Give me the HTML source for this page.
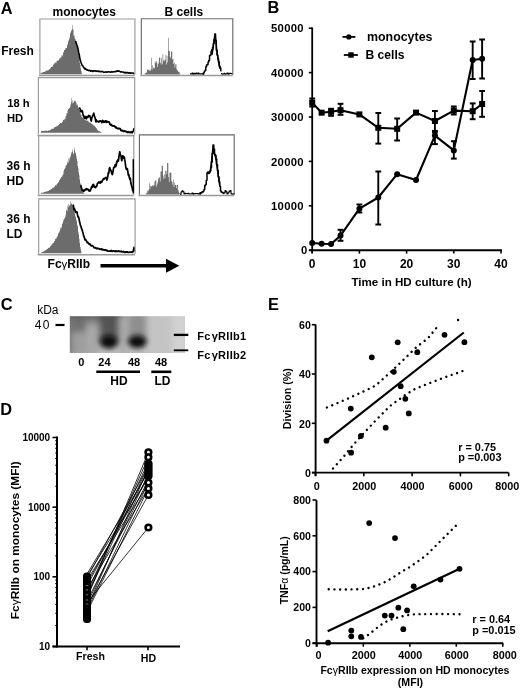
<!DOCTYPE html>
<html><head><meta charset="utf-8"><style>
html,body{margin:0;padding:0;background:#fff;width:520px;height:691px;overflow:hidden}
svg{display:block;filter:grayscale(1)}
text{font-family:"Liberation Sans", sans-serif;fill:#000}
</style></head><body>
<svg width="520" height="691" viewBox="0 0 520 691">
<rect width="520" height="691" fill="#fff"/>
<text transform="translate(0.8,13.7) scale(0.94,1)" font-size="17.4" font-weight="bold">A</text>
<text x="52.5" y="16.3" font-size="12" font-weight="bold" text-anchor="start" >monocytes</text>
<text x="164.5" y="16.3" font-size="12" font-weight="bold" text-anchor="start" >B cells</text>
<text x="1.2" y="54.8" font-size="12" font-weight="bold" text-anchor="start" >Fresh</text>
<text x="7.3" y="106.6" font-size="11.2" font-weight="bold" text-anchor="start" >18 h</text>
<text x="6.9" y="121.7" font-size="11.2" font-weight="bold" text-anchor="start" >HD</text>
<text x="6.5" y="170.2" font-size="12" font-weight="bold" text-anchor="start" >36 h</text>
<text x="6.5" y="184.8" font-size="12" font-weight="bold" text-anchor="start" >HD</text>
<text x="6.5" y="223.2" font-size="12" font-weight="bold" text-anchor="start" >36 h</text>
<text x="6.5" y="238.4" font-size="12" font-weight="bold" text-anchor="start" >LD</text>
<text x="47.6" y="268.2" font-size="12" font-weight="bold">Fc<tspan font-weight="normal" font-size="11.5">γ</tspan>RIIb</text>
<line x1="100.50" y1="265.80" x2="168.00" y2="265.80" stroke="#000" stroke-width="3.4" />
<polygon points="166.00,258.80 179.30,265.80 166.00,272.80" fill="#000" stroke="none" stroke-width="1" stroke-linejoin="round" />
<polygon points="40.50,74.20 40.50,73.28 41.00,73.28 41.00,73.26 41.50,73.26 41.50,72.84 42.00,72.84 42.00,72.43 42.50,72.43 42.50,72.51 43.00,72.51 43.00,71.93 43.50,71.93 43.50,71.84 44.00,71.84 44.00,71.78 44.50,71.78 44.50,71.99 45.00,71.99 45.00,71.52 45.50,71.52 45.50,70.85 46.00,70.85 46.00,70.87 46.50,70.87 46.50,70.53 47.00,70.53 47.00,70.31 47.50,70.31 47.50,70.51 48.00,70.51 48.00,70.28 48.50,70.28 48.50,69.81 49.00,69.81 49.00,69.12 49.50,69.12 49.50,69.42 50.00,69.42 50.00,68.69 50.50,68.69 50.50,67.52 51.00,67.52 51.00,66.89 51.50,66.89 51.50,67.02 52.00,67.02 52.00,66.60 52.50,66.60 52.50,66.62 53.00,66.62 53.00,64.76 53.50,64.76 53.50,64.39 54.00,64.39 54.00,64.01 54.50,64.01 54.50,63.03 55.00,63.03 55.00,62.93 55.50,62.93 55.50,61.93 56.00,61.93 56.00,63.00 56.50,63.00 56.50,61.08 57.00,61.08 57.00,60.43 57.50,60.43 57.50,60.96 58.00,60.96 58.00,60.70 58.50,60.70 58.50,60.05 59.00,60.05 59.00,59.19 59.50,59.19 59.50,58.16 60.00,58.16 60.00,57.35 60.50,57.35 60.50,58.58 61.00,58.58 61.00,57.24 61.50,57.24 61.50,55.55 62.00,55.55 62.00,56.26 62.50,56.26 62.50,54.90 63.00,54.90 63.00,52.46 63.50,52.46 63.50,52.34 64.00,52.34 64.00,49.99 64.50,49.99 64.50,49.89 65.00,49.89 65.00,49.22 65.50,49.22 65.50,48.05 66.00,48.05 66.00,48.01 66.50,48.01 66.50,47.63 67.00,47.63 67.00,44.02 67.50,44.02 67.50,45.21 68.00,45.21 68.00,40.30 68.50,40.30 68.50,41.74 69.00,41.74 69.00,39.20 69.50,39.20 69.50,36.96 70.00,36.96 70.00,32.33 70.50,32.33 70.50,33.61 71.00,33.61 71.00,30.89 71.50,30.89 71.50,29.63 72.00,29.63 72.00,25.12 72.50,25.12 72.50,29.25 73.00,29.25 73.00,29.43 73.50,29.43 73.50,35.38 74.00,35.38 74.00,35.61 74.50,35.61 74.50,38.34 75.00,38.34 75.00,38.95 75.50,38.95 75.50,40.46 76.00,40.46 76.00,42.73 76.50,42.73 76.50,44.50 77.00,44.50 77.00,48.32 77.50,48.32 77.50,50.39 78.00,50.39 78.00,52.94 78.50,52.94 78.50,54.24 79.00,54.24 79.00,58.89 79.50,58.89 79.50,62.78 80.00,62.78 80.00,64.85 80.50,64.85 80.50,68.44 81.00,68.44 81.00,70.99 81.50,70.99 81.50,73.35 82.00,73.35 82.00,73.99 82.50,73.99 82.50,74.20 83.00,74.20 82.50,74.20" fill="#6c6c6c" stroke="none" stroke-width="1" stroke-linejoin="round" />
<polyline points="75.60,40.95 76.20,43.03 76.80,44.76 77.40,46.29 78.00,49.02 78.60,52.15 79.20,54.36 79.80,58.05 80.40,60.80 81.00,62.48 81.60,64.01 82.20,65.50 82.80,65.79 83.40,67.03 84.00,67.65 84.60,68.81 85.20,68.37 85.80,69.50 86.40,69.21 87.00,70.17 87.60,70.02 88.20,70.24 88.80,70.77 89.40,70.23 90.00,70.43 90.60,71.19 91.20,70.90 91.80,70.61 92.40,71.39 93.00,71.41 93.60,70.77 94.20,71.07 94.80,70.89 95.40,71.07 96.00,71.36 96.60,71.03 97.20,71.49 97.80,71.01 98.40,71.14 99.00,71.69 99.60,71.40 100.20,71.46 100.80,71.66 101.40,71.62 102.00,71.61 102.60,71.40 103.20,71.99 103.80,72.24 104.40,72.30 105.00,72.12 105.60,71.89 106.20,71.90 106.80,72.14 107.40,72.13 108.00,71.71 108.60,71.80 109.20,71.90 109.80,72.01 110.40,72.22 111.00,71.96 111.60,71.58 112.20,72.16 112.80,71.83 113.40,71.88 114.00,71.63 114.60,71.76 115.20,71.66 115.80,71.80 116.40,71.11 117.00,71.31 117.60,70.84 118.20,71.23 118.80,70.89 119.40,71.29 120.00,71.55 120.60,71.97 121.20,71.69 121.80,72.07 122.40,71.96 123.00,72.09 123.60,72.31 124.20,72.73 124.80,72.46 125.40,72.87 126.00,72.36 126.60,72.96 127.20,72.62 127.80,72.56 128.40,73.01 129.00,73.18 129.60,72.62 130.20,72.86 130.80,73.27 131.40,73.05 132.00,73.05 132.60,72.96 133.20,73.05 133.80,73.50 134.40,73.80" fill="none" stroke="#000" stroke-width="1.6" stroke-linejoin="round" />
<path d="M39.9,74.8 L39.9,19.0 L134.9,19.0 L134.9,74.8" fill="none" stroke="#9a9a9a" stroke-width="1.15"/>
<line x1="38.9" y1="75.6" x2="134.9" y2="75.6" stroke="#9a9a9a" stroke-width="1.5"/>
<polygon points="144.00,74.60 144.00,74.54 144.60,74.54 144.60,73.78 145.20,73.78 145.20,73.11 145.80,73.11 145.80,72.63 146.40,72.63 146.40,72.56 147.00,72.56 147.00,69.50 147.60,69.50 147.60,69.50 148.20,69.50 148.20,70.48 148.80,70.48 148.80,69.99 149.40,69.99 149.40,70.45 150.00,70.45 150.00,70.96 150.60,70.96 150.60,69.04 151.20,69.04 151.20,57.80 151.80,57.80 151.80,69.63 152.40,69.63 152.40,65.36 153.00,65.36 153.00,67.98 153.60,67.98 153.60,67.57 154.20,67.57 154.20,68.39 154.80,68.39 154.80,61.51 155.40,61.51 155.40,62.68 156.00,62.68 156.00,61.05 156.60,61.05 156.60,62.65 157.20,62.65 157.20,66.96 157.80,66.96 157.80,64.29 158.40,64.29 158.40,62.55 159.00,62.55 159.00,57.80 159.60,57.80 159.60,57.78 160.20,57.78 160.20,62.73 160.80,62.73 160.80,64.44 161.40,64.44 161.40,57.74 162.00,57.74 162.00,64.23 162.60,64.23 162.60,54.40 163.20,54.40 163.20,60.63 163.80,60.63 163.80,59.44 164.40,59.44 164.40,61.45 165.00,61.45 165.00,59.80 165.60,59.80 165.60,54.90 166.20,54.90 166.20,64.53 166.80,64.53 166.80,55.78 167.40,55.78 167.40,62.44 168.00,62.44 168.00,38.10 168.60,38.10 168.60,51.00 169.20,51.00 169.20,51.00 169.80,51.00 169.80,56.46 170.40,56.46 170.40,58.15 171.00,58.15 171.00,51.50 171.60,51.50 171.60,51.50 172.20,51.50 172.20,59.58 172.80,59.58 172.80,58.70 173.40,58.70 173.40,63.90 174.00,63.90 174.00,62.46 174.60,62.46 174.60,67.63 175.20,67.63 175.20,64.44 175.80,64.44 175.80,64.00 176.40,64.00 176.40,69.19 177.00,69.19 177.00,70.29 177.60,70.29 177.60,70.99 178.20,70.99 178.20,72.02 178.80,72.02 178.80,71.85 179.40,71.85 179.40,73.43 180.00,73.43 180.00,74.26 180.60,74.26 180.60,74.42 181.20,74.42 181.00,74.60" fill="#6c6c6c" stroke="none" stroke-width="1" stroke-linejoin="round" />
<polyline points="202.80,74.41 203.55,74.41 203.55,72.68 204.30,72.68 204.30,71.36 205.05,71.36 205.05,70.22 205.80,70.22 205.80,66.73 206.55,66.73 206.55,64.90 207.30,64.90 207.30,64.42 208.05,64.42 208.05,62.06 208.80,62.06 208.80,60.16 209.55,60.16 209.55,55.41 210.30,55.41 210.30,55.12 211.05,55.12 211.05,51.24 211.80,51.24 211.80,49.54 212.55,49.54 212.55,47.34 213.30,47.34 213.30,43.53 214.05,43.53 214.05,39.68 214.80,39.68 214.80,34.35 215.55,34.35 215.55,40.66 216.30,40.66 216.30,50.17 217.05,50.17 217.05,55.10 217.80,55.10 217.80,59.03 218.55,59.03 218.55,61.76 219.30,61.76 219.30,65.92 220.05,65.92 220.05,67.96 220.80,67.96 220.80,70.85 221.55,70.85" fill="none" stroke="#000" stroke-width="1.5" stroke-linejoin="round" />
<polyline points="190.00,73.88 191.00,73.88 191.00,74.06 192.00,74.06 192.00,73.17 193.00,73.17 193.00,74.27 194.00,74.27 194.00,73.19 195.00,73.19 195.00,73.83 196.00,73.83 196.00,73.05 197.00,73.05 197.00,73.95 198.00,73.95 198.00,73.13 199.00,73.13 199.00,73.88 200.00,73.88 200.00,73.90 201.00,73.90 201.00,73.96 202.00,73.96 202.00,73.52 203.00,73.52 203.00,74.09 204.00,74.09" fill="none" stroke="#000" stroke-width="1.1" stroke-linejoin="round" />
<polyline points="221.00,73.44 222.00,73.44 222.00,74.17 223.00,74.17 223.00,74.06 224.00,74.06 224.00,73.22 225.00,73.22 225.00,74.10 226.00,74.10 226.00,73.78 227.00,73.78 227.00,72.99 228.00,72.99 228.00,74.21 229.00,74.21 229.00,73.27 230.00,73.27 230.00,73.34 231.00,73.34 231.00,73.50 232.00,73.50 232.00,73.72 233.00,73.72" fill="none" stroke="#000" stroke-width="1.1" stroke-linejoin="round" />
<polyline points="212.00,54.85 212.60,51.30 213.20,47.58 213.80,41.71 214.40,37.82 215.00,33.85 215.60,38.56 216.20,44.93 216.80,50.05 217.40,55.12 218.00,58.45 218.60,62.47 219.20,65.15 219.80,68.52" fill="none" stroke="#000" stroke-width="1.4" stroke-linejoin="round" />
<path d="M141.3,74.8 L141.3,18.7 L232.8,18.7 L232.8,74.8" fill="none" stroke="#6a6a6a" stroke-width="1.15"/>
<line x1="140.3" y1="75.6" x2="232.8" y2="75.6" stroke="#9a9a9a" stroke-width="1.5"/>
<polygon points="40.50,132.80 40.50,132.29 41.00,132.29 41.00,131.26 41.50,131.26 41.50,130.98 42.00,130.98 42.00,131.08 42.50,131.08 42.50,130.98 43.00,130.98 43.00,131.07 43.50,131.07 43.50,131.01 44.00,131.01 44.00,131.00 44.50,131.00 44.50,130.58 45.00,130.58 45.00,131.04 45.50,131.04 45.50,130.58 46.00,130.58 46.00,130.75 46.50,130.75 46.50,130.45 47.00,130.45 47.00,130.67 47.50,130.67 47.50,130.88 48.00,130.88 48.00,130.35 48.50,130.35 48.50,130.75 49.00,130.75 49.00,130.19 49.50,130.19 49.50,130.57 50.00,130.57 50.00,129.95 50.50,129.95 50.50,129.74 51.00,129.74 51.00,129.38 51.50,129.38 51.50,128.74 52.00,128.74 52.00,128.63 52.50,128.63 52.50,128.72 53.00,128.72 53.00,128.72 53.50,128.72 53.50,128.38 54.00,128.38 54.00,127.30 54.50,127.30 54.50,127.43 55.00,127.43 55.00,126.91 55.50,126.91 55.50,126.79 56.00,126.79 56.00,126.66 56.50,126.66 56.50,125.79 57.00,125.79 57.00,126.31 57.50,126.31 57.50,125.70 58.00,125.70 58.00,125.36 58.50,125.36 58.50,124.96 59.00,124.96 59.00,124.09 59.50,124.09 59.50,124.09 60.00,124.09 60.00,122.97 60.50,122.97 60.50,123.29 61.00,123.29 61.00,123.14 61.50,123.14 61.50,122.76 62.00,122.76 62.00,121.70 62.50,121.70 62.50,121.65 63.00,121.65 63.00,119.70 63.50,119.70 63.50,119.89 64.00,119.89 64.00,120.18 64.50,120.18 64.50,118.54 65.00,118.54 65.00,118.98 65.50,118.98 65.50,116.22 66.00,116.22 66.00,115.77 66.50,115.77 66.50,113.30 67.00,113.30 67.00,113.15 67.50,113.15 67.50,110.84 68.00,110.84 68.00,108.76 68.50,108.76 68.50,109.16 69.00,109.16 69.00,107.95 69.50,107.95 69.50,108.15 70.00,108.15 70.00,106.40 70.50,106.40 70.50,104.60 71.00,104.60 71.00,102.30 71.50,102.30 71.50,97.93 72.00,97.93 72.00,100.20 72.50,100.20 72.50,103.47 73.00,103.47 73.00,102.36 73.50,102.36 73.50,102.67 74.00,102.67 74.00,101.04 74.50,101.04 74.50,100.67 75.00,100.67 75.00,100.80 75.50,100.80 75.50,101.50 76.00,101.50 76.00,102.81 76.50,102.81 76.50,104.81 77.00,104.81 77.00,104.36 77.50,104.36 77.50,105.74 78.00,105.74 78.00,107.50 78.50,107.50 78.50,107.82 79.00,107.82 79.00,109.63 79.50,109.63 79.50,109.75 80.00,109.75 80.00,112.66 80.50,112.66 80.50,114.42 81.00,114.42 81.00,114.66 81.50,114.66 81.50,116.96 82.00,116.96 82.00,118.02 82.50,118.02 82.50,117.02 83.00,117.02 83.00,117.69 83.50,117.69 83.50,118.47 84.00,118.47 84.00,117.95 84.50,117.95 84.50,119.77 85.00,119.77 85.00,120.13 85.50,120.13 85.50,119.98 86.00,119.98 86.00,120.20 86.50,120.20 86.50,121.06 87.00,121.06 87.00,120.55 87.50,120.55 87.50,120.65 88.00,120.65 88.00,120.74 88.50,120.74 88.50,122.14 89.00,122.14 89.00,122.13 89.50,122.13 89.50,122.43 90.00,122.43 90.00,122.74 90.50,122.74 90.50,122.79 91.00,122.79 91.00,123.62 91.50,123.62 91.50,123.72 92.00,123.72 92.00,124.17 92.50,124.17 92.50,124.61 93.00,124.61 93.00,125.70 93.50,125.70 93.50,124.98 94.00,124.98 94.00,126.33 94.50,126.33 94.50,125.87 95.00,125.87 95.00,126.60 95.50,126.60 95.50,127.61 96.00,127.61 96.00,128.08 96.50,128.08 96.50,128.75 97.00,128.75 97.00,129.52 97.50,129.52 97.50,130.24 98.00,130.24 98.00,130.85 98.50,130.85 98.50,130.92 99.00,130.92 99.00,130.87 99.50,130.87 99.50,131.51 100.00,131.51 100.00,131.76 100.50,131.76 100.50,131.86 101.00,131.86 101.00,132.22 101.50,132.22 101.50,132.61 102.00,132.61 101.50,132.80" fill="#6c6c6c" stroke="none" stroke-width="1" stroke-linejoin="round" />
<polyline points="79.30,107.48 79.80,108.37 80.30,109.09 80.80,111.64 81.30,110.59 81.80,111.79 82.30,110.75 82.80,113.41 83.30,115.72 83.80,115.82 84.30,118.15 84.80,118.29 85.30,117.10 85.80,116.36 86.30,118.95 86.80,117.48 87.30,116.52 87.80,117.46 88.30,116.63 88.80,115.44 89.30,116.39 89.80,115.73 90.30,117.24 90.80,119.23 91.30,121.10 91.80,117.70 92.30,116.79 92.80,115.31 93.30,114.35 93.80,113.25 94.30,115.86 94.80,116.85 95.30,118.85 95.80,121.74 96.30,119.88 96.80,121.67 97.30,121.59 97.80,121.27 98.30,121.41 98.80,122.02 99.30,121.67 99.80,120.82 100.30,121.07 100.80,120.86 101.30,121.25 101.80,122.72 102.30,121.32 102.80,120.42 103.30,121.44 103.80,122.28 104.30,121.36 104.80,122.13 105.30,120.75 105.80,120.81 106.30,122.41 106.80,121.05 107.30,121.79 107.80,122.12 108.30,121.83 108.80,121.73 109.30,121.94 109.80,124.37 110.30,124.07 110.80,124.99 111.30,124.34 111.80,125.67 112.30,125.82 112.80,125.68 113.30,125.85 113.80,126.17 114.30,125.94 114.80,126.49 115.30,127.39 115.80,126.71 116.30,128.12 116.80,127.79 117.30,128.21 117.80,128.83 118.30,128.78 118.80,128.21 119.30,128.64 119.80,128.51 120.30,128.81 120.80,130.42 121.30,130.14 121.80,130.90 122.30,130.81 122.80,130.36 123.30,131.42 123.80,131.54 124.30,131.12 124.80,130.84 125.30,131.33 125.80,131.33 126.30,131.77 126.80,131.52 127.30,132.28 127.80,132.60 128.30,131.71 128.80,132.40 129.30,132.18 129.80,132.08 130.30,132.59 130.80,131.99 131.30,132.52 131.80,131.62 132.30,132.71 132.80,131.82 133.30,131.00 133.80,129.27 134.30,128.23" fill="none" stroke="#000" stroke-width="1.7" stroke-linejoin="round" />
<path d="M38.4,134.6 L38.4,77.6 L134.7,77.6 L134.7,134.6" fill="none" stroke="#9a9a9a" stroke-width="1.15"/>
<line x1="37.4" y1="135.4" x2="134.7" y2="135.4" stroke="#9a9a9a" stroke-width="1.5"/>
<polygon points="40.50,193.80 40.50,193.46 41.00,193.46 41.00,192.80 41.50,192.80 41.50,192.84 42.00,192.84 42.00,192.66 42.50,192.66 42.50,192.64 43.00,192.64 43.00,192.54 43.50,192.54 43.50,192.40 44.00,192.40 44.00,191.87 44.50,191.87 44.50,192.03 45.00,192.03 45.00,191.95 45.50,191.95 45.50,191.54 46.00,191.54 46.00,191.41 46.50,191.41 46.50,191.55 47.00,191.55 47.00,191.49 47.50,191.49 47.50,191.01 48.00,191.01 48.00,190.81 48.50,190.81 48.50,190.88 49.00,190.88 49.00,189.97 49.50,189.97 49.50,190.13 50.00,190.13 50.00,189.68 50.50,189.68 50.50,189.55 51.00,189.55 51.00,188.97 51.50,188.97 51.50,188.85 52.00,188.85 52.00,188.46 52.50,188.46 52.50,187.64 53.00,187.64 53.00,187.85 53.50,187.85 53.50,187.38 54.00,187.38 54.00,187.12 54.50,187.12 54.50,186.33 55.00,186.33 55.00,185.22 55.50,185.22 55.50,185.35 56.00,185.35 56.00,185.52 56.50,185.52 56.50,184.17 57.00,184.17 57.00,183.65 57.50,183.65 57.50,183.24 58.00,183.24 58.00,182.02 58.50,182.02 58.50,182.20 59.00,182.20 59.00,180.06 59.50,180.06 59.50,180.17 60.00,180.17 60.00,178.63 60.50,178.63 60.50,178.21 61.00,178.21 61.00,177.15 61.50,177.15 61.50,176.81 62.00,176.81 62.00,176.14 62.50,176.14 62.50,175.04 63.00,175.04 63.00,174.13 63.50,174.13 63.50,170.97 64.00,170.97 64.00,169.58 64.50,169.58 64.50,168.66 65.00,168.66 65.00,167.90 65.50,167.90 65.50,165.65 66.00,165.65 66.00,165.31 66.50,165.31 66.50,164.75 67.00,164.75 67.00,163.30 67.50,163.30 67.50,161.60 68.00,161.60 68.00,162.64 68.50,162.64 68.50,158.44 69.00,158.44 69.00,160.50 69.50,160.50 69.50,158.04 70.00,158.04 70.00,155.80 70.50,155.80 70.50,157.35 71.00,157.35 71.00,153.85 71.50,153.85 71.50,152.05 72.00,152.05 72.00,151.75 72.50,151.75 72.50,149.59 73.00,149.59 73.00,153.33 73.50,153.33 73.50,154.26 74.00,154.26 74.00,150.25 74.50,150.25 74.50,147.38 75.00,147.38 75.00,152.33 75.50,152.33 75.50,153.54 76.00,153.54 76.00,155.84 76.50,155.84 76.50,158.74 77.00,158.74 77.00,161.11 77.50,161.11 77.50,166.03 78.00,166.03 78.00,168.26 78.50,168.26 78.50,172.39 79.00,172.39 79.00,175.19 79.50,175.19 79.50,179.40 80.00,179.40 80.00,182.94 80.50,182.94 80.50,186.39 81.00,186.39 81.00,188.22 81.50,188.22 81.50,189.91 82.00,189.91 82.00,191.43 82.50,191.43 82.50,191.65 83.00,191.65 83.00,192.14 83.50,192.14 83.50,192.97 84.00,192.97 84.00,193.25 84.50,193.25 84.20,193.80" fill="#6c6c6c" stroke="none" stroke-width="1" stroke-linejoin="round" />
<polyline points="80.30,185.57 80.80,185.46 81.30,187.53 81.80,188.88 82.30,190.58 82.80,190.69 83.30,191.30 83.80,190.08 84.30,190.79 84.80,189.72 85.30,189.69 85.80,189.87 86.30,188.56 86.80,188.53 87.30,189.51 87.80,189.64 88.30,189.36 88.80,190.41 89.30,191.15 89.80,190.06 90.30,190.77 90.80,189.60 91.30,187.85 91.80,186.40 92.30,187.34 92.80,184.77 93.30,184.47 93.80,184.83 94.30,187.05 94.80,186.76 95.30,187.57 95.80,187.45 96.30,185.99 96.80,186.17 97.30,183.55 97.80,183.06 98.30,182.94 98.80,181.82 99.30,182.93 99.80,182.37 100.30,183.10 100.80,181.45 101.30,182.36 101.80,182.15 102.30,180.61 102.80,180.19 103.30,178.85 103.80,178.57 104.30,179.00 104.80,178.00 105.30,178.02 105.80,177.43 106.30,177.64 106.80,180.11 107.30,178.65 107.80,176.54 108.30,172.67 108.80,173.11 109.30,168.62 109.80,167.57 110.30,169.77 110.80,170.02 111.30,171.45 111.80,173.80 112.30,174.51 112.80,173.04 113.30,169.46 113.80,167.42 114.30,167.49 114.80,166.11 115.30,164.62 115.80,166.58 116.30,165.02 116.80,161.28 117.30,161.83 117.80,159.74 118.30,161.07 118.80,158.12 119.30,154.04 119.80,151.72 120.30,154.78 120.80,155.14 121.30,158.23 121.80,160.75 122.30,157.56 122.80,155.77 123.30,158.19 123.80,156.56 124.30,157.51 124.80,160.10 125.30,163.17 125.80,167.32 126.30,169.31 126.80,168.94 127.30,168.63 127.80,171.29 128.30,175.26 128.80,174.46 129.30,177.54 129.80,179.12 130.30,178.21 130.80,182.74 131.30,184.71 131.80,186.58 132.30,188.29 132.80,191.31" fill="none" stroke="#000" stroke-width="1.7" stroke-linejoin="round" />
<path d="M38.7,194.8 L38.7,135.6 L133.8,135.6 L133.8,194.8" fill="none" stroke="#9a9a9a" stroke-width="1.15"/>
<line x1="37.7" y1="195.60000000000002" x2="133.8" y2="195.60000000000002" stroke="#9a9a9a" stroke-width="1.5"/>
<line x1="133.30" y1="159.20" x2="133.30" y2="193.50" stroke="#000" stroke-width="1.5" />
<polygon points="145.50,194.40 145.50,194.40 146.10,194.40 146.10,193.24 146.70,193.24 146.70,192.64 147.30,192.64 147.30,190.44 147.90,190.44 147.90,191.23 148.50,191.23 148.50,189.64 149.10,189.64 149.10,183.20 149.70,183.20 149.70,188.88 150.30,188.88 150.30,185.69 150.90,185.69 150.90,186.19 151.50,186.19 151.50,186.58 152.10,186.58 152.10,185.59 152.70,185.59 152.70,185.29 153.30,185.29 153.30,186.20 153.90,186.20 153.90,181.43 154.50,181.43 154.50,184.97 155.10,184.97 155.10,180.15 155.70,180.15 155.70,180.49 156.30,180.49 156.30,186.66 156.90,186.66 156.90,184.43 157.50,184.43 157.50,182.14 158.10,182.14 158.10,178.66 158.70,178.66 158.70,177.40 159.30,177.40 159.30,177.40 159.90,177.40 159.90,181.57 160.50,181.57 160.50,171.60 161.10,171.60 161.10,171.60 161.70,171.60 161.70,165.80 162.30,165.80 162.30,165.80 162.90,165.80 162.90,175.58 163.50,175.58 163.50,179.04 164.10,179.04 164.10,174.30 164.70,174.30 164.70,178.34 165.30,178.34 165.30,170.70 165.90,170.70 165.90,170.70 166.50,170.70 166.50,174.14 167.10,174.14 167.10,163.00 167.70,163.00 167.70,163.00 168.30,163.00 168.30,176.97 168.90,176.97 168.90,181.99 169.50,181.99 169.50,173.11 170.10,173.11 170.10,172.60 170.70,172.60 170.70,172.60 171.30,172.60 171.30,181.06 171.90,181.06 171.90,181.98 172.50,181.98 172.50,184.74 173.10,184.74 173.10,179.53 173.70,179.53 173.70,186.99 174.30,186.99 174.30,182.44 174.90,182.44 174.90,185.00 175.50,185.00 175.50,185.00 176.10,185.00 176.10,188.13 176.70,188.13 176.70,185.00 177.30,185.00 177.30,185.00 177.90,185.00 177.90,189.76 178.50,189.76 178.50,191.64 179.10,191.64 179.10,193.06 179.70,193.06 179.50,194.40" fill="#6c6c6c" stroke="none" stroke-width="1" stroke-linejoin="round" />
<polyline points="199.50,194.23 200.25,194.23 200.25,192.82 201.00,192.82 201.00,192.91 201.75,192.91 201.75,192.11 202.50,192.11 202.50,192.06 203.25,192.06 203.25,190.90 204.00,190.90 204.00,189.29 204.75,189.29 204.75,185.40 205.50,185.40 205.50,184.18 206.25,184.18 206.25,180.29 207.00,180.29 207.00,172.72 207.75,172.72 207.75,171.90 208.50,171.90 208.50,173.56 209.25,173.56 209.25,172.53 210.00,172.53 210.00,171.07 210.75,171.07 210.75,167.57 211.50,167.57 211.50,161.94 212.25,161.94 212.25,153.50 213.00,153.50 213.00,144.95 213.75,144.95 213.75,148.92 214.50,148.92 214.50,154.18 215.25,154.18 215.25,155.20 216.00,155.20 216.00,158.94 216.75,158.94 216.75,164.59 217.50,164.59 217.50,170.44 218.25,170.44 218.25,176.86 219.00,176.86 219.00,181.67 219.75,181.67 219.75,186.33 220.50,186.33 220.50,191.05 221.25,191.05 221.25,192.17 222.00,192.17 222.00,192.20 222.75,192.20 222.75,193.02 223.50,193.02 223.50,193.47 224.25,193.47" fill="none" stroke="#000" stroke-width="1.5" stroke-linejoin="round" />
<polyline points="180.00,194.40 181.00,194.40 181.00,191.93 182.00,191.93 182.00,190.90 183.00,190.90 183.00,191.81 184.00,191.81 184.00,194.05 185.00,194.05 185.00,193.36 186.00,193.36 186.00,193.44 187.00,193.44 187.00,193.59 188.00,193.59 188.00,193.36 189.00,193.36 189.00,193.99 190.00,193.99 190.00,193.95 191.00,193.95 191.00,193.77 192.00,193.77 192.00,192.97 193.00,192.97 193.00,194.08 194.00,194.08 194.00,193.56 195.00,193.56 195.00,193.62 196.00,193.62 196.00,193.55 197.00,193.55 197.00,193.52 198.00,193.52 198.00,194.01 199.00,194.01 199.00,193.23 200.00,193.23 200.00,193.07 201.00,193.07" fill="none" stroke="#000" stroke-width="1.1" stroke-linejoin="round" />
<polyline points="223.00,193.01 224.00,193.01 224.00,192.91 225.00,192.91 225.00,190.58 226.00,190.58 226.00,191.85 227.00,191.85 227.00,193.91 228.00,193.91 228.00,192.79 229.00,192.79 229.00,191.14 230.00,191.14 230.00,190.54 231.00,190.54 231.00,193.76 232.00,193.76 232.00,194.15 233.00,194.15 233.00,193.89 234.00,193.89 234.00,193.85 235.00,193.85" fill="none" stroke="#000" stroke-width="1.1" stroke-linejoin="round" />
<polyline points="210.00,171.23 210.60,168.78 211.20,163.91 211.80,158.42 212.40,152.87 213.00,147.54 213.60,148.87 214.20,152.46 214.80,155.49 215.40,156.61 216.00,160.01 216.60,164.86 217.20,167.99 217.80,171.52 218.40,176.95 219.00,180.31 219.60,184.88" fill="none" stroke="#000" stroke-width="1.4" stroke-linejoin="round" />
<path d="M139.4,194.8 L139.4,134.8 L234.2,134.8 L234.2,194.8" fill="none" stroke="#6a6a6a" stroke-width="1.15"/>
<line x1="138.4" y1="195.60000000000002" x2="234.2" y2="195.60000000000002" stroke="#9a9a9a" stroke-width="1.5"/>
<polygon points="40.50,253.30 40.50,253.01 41.00,253.01 41.00,252.80 41.50,252.80 41.50,252.32 42.00,252.32 42.00,252.07 42.50,252.07 42.50,251.74 43.00,251.74 43.00,251.38 43.50,251.38 43.50,251.49 44.00,251.49 44.00,250.98 44.50,250.98 44.50,250.53 45.00,250.53 45.00,250.44 45.50,250.44 45.50,250.13 46.00,250.13 46.00,249.85 46.50,249.85 46.50,249.59 47.00,249.59 47.00,249.00 47.50,249.00 47.50,248.74 48.00,248.74 48.00,248.11 48.50,248.11 48.50,247.64 49.00,247.64 49.00,247.25 49.50,247.25 49.50,247.88 50.00,247.88 50.00,246.40 50.50,246.40 50.50,245.70 51.00,245.70 51.00,245.43 51.50,245.43 51.50,244.67 52.00,244.67 52.00,244.31 52.50,244.31 52.50,243.35 53.00,243.35 53.00,242.70 53.50,242.70 53.50,242.91 54.00,242.91 54.00,241.62 54.50,241.62 54.50,240.95 55.00,240.95 55.00,239.16 55.50,239.16 55.50,238.67 56.00,238.67 56.00,238.79 56.50,238.79 56.50,237.18 57.00,237.18 57.00,236.44 57.50,236.44 57.50,235.75 58.00,235.75 58.00,233.69 58.50,233.69 58.50,232.74 59.00,232.74 59.00,232.37 59.50,232.37 59.50,230.95 60.00,230.95 60.00,229.51 60.50,229.51 60.50,227.56 61.00,227.56 61.00,226.57 61.50,226.57 61.50,228.25 62.00,228.25 62.00,224.05 62.50,224.05 62.50,222.95 63.00,222.95 63.00,221.23 63.50,221.23 63.50,219.43 64.00,219.43 64.00,217.88 64.50,217.88 64.50,218.99 65.00,218.99 65.00,216.90 65.50,216.90 65.50,214.38 66.00,214.38 66.00,209.75 66.50,209.75 66.50,210.40 67.00,210.40 67.00,211.17 67.50,211.17 67.50,205.81 68.00,205.81 68.00,207.36 68.50,207.36 68.50,204.00 69.00,204.00 69.00,205.78 69.50,205.78 69.50,205.33 70.00,205.33 70.00,204.87 70.50,204.87 70.50,201.30 71.00,201.30 71.00,203.75 71.50,203.75 71.50,203.31 72.00,203.31 72.00,204.86 72.50,204.86 72.50,205.92 73.00,205.92 73.00,205.92 73.50,205.92 73.50,208.82 74.00,208.82 74.00,210.15 74.50,210.15 74.50,213.16 75.00,213.16 75.00,215.71 75.50,215.71 75.50,217.20 76.00,217.20 76.00,219.71 76.50,219.71 76.50,221.19 77.00,221.19 77.00,224.87 77.50,224.87 77.50,226.35 78.00,226.35 78.00,231.71 78.50,231.71 78.50,234.24 79.00,234.24 79.00,238.91 79.50,238.91 79.50,242.98 80.00,242.98 80.00,246.90 80.50,246.90 80.50,249.14 81.00,249.14 81.00,251.51 81.50,251.51 81.30,253.30" fill="#6c6c6c" stroke="none" stroke-width="1" stroke-linejoin="round" />
<polyline points="73.00,204.61 73.50,205.98 74.00,209.54 74.50,208.67 75.00,210.28 75.50,212.43 76.00,211.53 76.50,212.42 77.00,212.02 77.50,214.90 78.00,216.99 78.50,216.90 79.00,218.80 79.50,221.60 80.00,223.39 80.50,225.74 81.00,226.29 81.50,228.65 82.00,229.32 82.50,231.25 83.00,232.71 83.50,235.37 84.00,236.67 84.50,238.04 85.00,239.95 85.50,239.44 86.00,240.17 86.50,241.06 87.00,242.60 87.50,242.10 88.00,242.74 88.50,243.36 89.00,244.17 89.50,243.89 90.00,244.11 90.50,245.36 91.00,245.50 91.50,245.89 92.00,245.40 92.50,245.99 93.00,246.03 93.50,246.64 94.00,247.62 94.50,247.96 95.00,248.01 95.50,247.64 96.00,248.07 96.50,248.62 97.00,248.06 97.50,248.27 98.00,248.79 98.50,248.48 99.00,248.78 99.50,248.79 100.00,249.46 100.50,249.25 101.00,248.90 101.50,248.96 102.00,249.74 102.50,249.24 103.00,249.94 103.50,249.53 104.00,249.96 104.50,249.84 105.00,250.26 105.50,249.78 106.00,250.16 106.50,250.51 107.00,250.18 107.50,251.02 108.00,251.10 108.50,251.16 109.00,251.20 109.50,251.26 110.00,250.92 110.50,251.22 111.00,250.82 111.50,250.51 112.00,251.40 112.50,251.42 113.00,250.80 113.50,250.95 114.00,250.84 114.50,251.34 115.00,250.84 115.50,251.50 116.00,250.78 116.50,251.16 117.00,251.56 117.50,251.31 118.00,251.00 118.50,250.93 119.00,251.59 119.50,251.06 120.00,251.29 120.50,251.64 121.00,251.40 121.50,251.19 122.00,251.94 122.50,251.91 123.00,251.85 123.50,251.42 124.00,251.82 124.50,252.30 125.00,251.93 125.50,251.74 126.00,252.39 126.50,251.90 127.00,252.10 127.50,251.83 128.00,252.49 128.50,252.36 129.00,252.23 129.50,252.19 130.00,252.06 130.50,252.16 131.00,252.21 131.50,251.78 132.00,252.39 132.50,252.42 133.00,251.78 133.50,249.86 134.00,247.29 134.50,251.44" fill="none" stroke="#000" stroke-width="1.7" stroke-linejoin="round" />
<path d="M38.7,254.0 L38.7,198.8 L135.1,198.8 L135.1,254.0" fill="none" stroke="#9a9a9a" stroke-width="1.15"/>
<line x1="37.7" y1="254.8" x2="135.1" y2="254.8" stroke="#9a9a9a" stroke-width="1.5"/>
<text transform="translate(267.6,13.3) scale(0.94,1)" font-size="17.4" font-weight="bold">B</text>
<line x1="312.20" y1="27.50" x2="312.20" y2="253.20" stroke="#000" stroke-width="1.8" />
<line x1="309.00" y1="250.20" x2="502.00" y2="250.20" stroke="#000" stroke-width="1.9" />
<line x1="308.80" y1="250.20" x2="312.20" y2="250.20" stroke="#000" stroke-width="1.6" />
<text x="307.3" y="254.39999999999998" font-size="11.3" font-weight="bold" text-anchor="end" >0</text>
<line x1="308.80" y1="205.80" x2="312.20" y2="205.80" stroke="#000" stroke-width="1.6" />
<text x="303.9" y="210.00" font-size="11.3" font-weight="bold" text-anchor="end" letter-spacing="0.3">10000</text>
<line x1="308.80" y1="161.40" x2="312.20" y2="161.40" stroke="#000" stroke-width="1.6" />
<text x="303.9" y="165.60" font-size="11.3" font-weight="bold" text-anchor="end" letter-spacing="0.3">20000</text>
<line x1="308.80" y1="117.00" x2="312.20" y2="117.00" stroke="#000" stroke-width="1.6" />
<text x="303.9" y="121.20" font-size="11.3" font-weight="bold" text-anchor="end" letter-spacing="0.3">30000</text>
<line x1="308.80" y1="72.60" x2="312.20" y2="72.60" stroke="#000" stroke-width="1.6" />
<text x="303.9" y="76.80" font-size="11.3" font-weight="bold" text-anchor="end" letter-spacing="0.3">40000</text>
<line x1="308.80" y1="28.20" x2="312.20" y2="28.20" stroke="#000" stroke-width="1.6" />
<text x="303.9" y="32.40" font-size="11.3" font-weight="bold" text-anchor="end" letter-spacing="0.3">50000</text>
<line x1="312.20" y1="250.20" x2="312.20" y2="253.60" stroke="#000" stroke-width="1.6" />
<text x="312.2" y="267.5" font-size="12" font-weight="bold" text-anchor="middle" >0</text>
<line x1="359.40" y1="250.20" x2="359.40" y2="253.60" stroke="#000" stroke-width="1.6" />
<text x="359.4" y="267.5" font-size="12" font-weight="bold" text-anchor="middle" >10</text>
<line x1="406.60" y1="250.20" x2="406.60" y2="253.60" stroke="#000" stroke-width="1.6" />
<text x="406.59999999999997" y="267.5" font-size="12" font-weight="bold" text-anchor="middle" >20</text>
<line x1="453.80" y1="250.20" x2="453.80" y2="253.60" stroke="#000" stroke-width="1.6" />
<text x="453.79999999999995" y="267.5" font-size="12" font-weight="bold" text-anchor="middle" >30</text>
<line x1="501.00" y1="250.20" x2="501.00" y2="253.60" stroke="#000" stroke-width="1.6" />
<text x="501.0" y="267.5" font-size="12" font-weight="bold" text-anchor="middle" >40</text>
<text x="411.5" y="285.8" font-size="11.6" font-weight="bold" text-anchor="middle" >Time in HD culture (h)</text>
<polyline points="312.20,243.00 321.64,243.80 331.08,244.00 340.52,235.60 359.40,208.70 378.28,197.50 397.16,174.20 416.04,180.00 434.92,135.60 453.80,150.40 472.68,60.00 482.12,58.70" fill="none" stroke="#000" stroke-width="2.1" stroke-linejoin="round" />
<polyline points="312.20,102.60 321.64,112.70 331.08,111.80 340.52,110.20 359.40,114.40 378.28,127.80 397.16,128.80 416.04,112.60 434.92,121.00 453.80,110.60 472.68,111.20 482.12,104.00" fill="none" stroke="#000" stroke-width="2.1" stroke-linejoin="round" />
<circle cx="312.20" cy="243.0" r="3.0" fill="#000"/>
<circle cx="321.64" cy="243.8" r="3.0" fill="#000"/>
<circle cx="331.08" cy="244.0" r="3.0" fill="#000"/>
<line x1="340.52" y1="229.80" x2="340.52" y2="240.80" stroke="#000" stroke-width="1.9" />
<line x1="337.62" y1="229.80" x2="343.42" y2="229.80" stroke="#000" stroke-width="2.0" />
<line x1="337.62" y1="240.80" x2="343.42" y2="240.80" stroke="#000" stroke-width="2.0" />
<circle cx="340.52" cy="235.6" r="3.0" fill="#000"/>
<line x1="359.40" y1="204.50" x2="359.40" y2="212.50" stroke="#000" stroke-width="1.9" />
<line x1="356.50" y1="204.50" x2="362.30" y2="204.50" stroke="#000" stroke-width="2.0" />
<line x1="356.50" y1="212.50" x2="362.30" y2="212.50" stroke="#000" stroke-width="2.0" />
<circle cx="359.40" cy="208.7" r="3.0" fill="#000"/>
<line x1="378.28" y1="171.50" x2="378.28" y2="224.50" stroke="#000" stroke-width="1.9" />
<line x1="375.38" y1="171.50" x2="381.18" y2="171.50" stroke="#000" stroke-width="2.0" />
<line x1="375.38" y1="224.50" x2="381.18" y2="224.50" stroke="#000" stroke-width="2.0" />
<circle cx="378.28" cy="197.5" r="3.0" fill="#000"/>
<circle cx="397.16" cy="174.2" r="3.0" fill="#000"/>
<circle cx="416.04" cy="180.0" r="3.0" fill="#000"/>
<line x1="434.92" y1="130.90" x2="434.92" y2="144.10" stroke="#000" stroke-width="1.9" />
<line x1="432.02" y1="130.90" x2="437.82" y2="130.90" stroke="#000" stroke-width="2.0" />
<line x1="432.02" y1="144.10" x2="437.82" y2="144.10" stroke="#000" stroke-width="2.0" />
<circle cx="434.92" cy="135.6" r="3.0" fill="#000"/>
<line x1="453.80" y1="141.20" x2="453.80" y2="158.60" stroke="#000" stroke-width="1.9" />
<line x1="450.90" y1="141.20" x2="456.70" y2="141.20" stroke="#000" stroke-width="2.0" />
<line x1="450.90" y1="158.60" x2="456.70" y2="158.60" stroke="#000" stroke-width="2.0" />
<circle cx="453.80" cy="150.4" r="3.0" fill="#000"/>
<line x1="472.68" y1="41.50" x2="472.68" y2="79.00" stroke="#000" stroke-width="1.9" />
<line x1="469.78" y1="41.50" x2="475.58" y2="41.50" stroke="#000" stroke-width="2.0" />
<line x1="469.78" y1="79.00" x2="475.58" y2="79.00" stroke="#000" stroke-width="2.0" />
<circle cx="472.68" cy="60.0" r="3.0" fill="#000"/>
<line x1="482.12" y1="39.50" x2="482.12" y2="78.50" stroke="#000" stroke-width="1.9" />
<line x1="479.22" y1="39.50" x2="485.02" y2="39.50" stroke="#000" stroke-width="2.0" />
<line x1="479.22" y1="78.50" x2="485.02" y2="78.50" stroke="#000" stroke-width="2.0" />
<circle cx="482.12" cy="58.7" r="3.0" fill="#000"/>
<line x1="312.20" y1="98.50" x2="312.20" y2="106.50" stroke="#000" stroke-width="1.9" />
<line x1="309.30" y1="98.50" x2="315.10" y2="98.50" stroke="#000" stroke-width="2.0" />
<line x1="309.30" y1="106.50" x2="315.10" y2="106.50" stroke="#000" stroke-width="2.0" />
<rect x="309.20" y="99.6" width="6" height="6" fill="#000"/>
<rect x="318.64" y="109.7" width="6" height="6" fill="#000"/>
<line x1="331.08" y1="108.80" x2="331.08" y2="115.80" stroke="#000" stroke-width="1.9" />
<line x1="328.18" y1="108.80" x2="333.98" y2="108.80" stroke="#000" stroke-width="2.0" />
<line x1="328.18" y1="115.80" x2="333.98" y2="115.80" stroke="#000" stroke-width="2.0" />
<rect x="328.08" y="108.8" width="6" height="6" fill="#000"/>
<line x1="340.52" y1="103.80" x2="340.52" y2="114.80" stroke="#000" stroke-width="1.9" />
<line x1="337.62" y1="103.80" x2="343.42" y2="103.80" stroke="#000" stroke-width="2.0" />
<line x1="337.62" y1="114.80" x2="343.42" y2="114.80" stroke="#000" stroke-width="2.0" />
<rect x="337.52" y="107.2" width="6" height="6" fill="#000"/>
<rect x="356.40" y="111.4" width="6" height="6" fill="#000"/>
<line x1="378.28" y1="113.00" x2="378.28" y2="143.60" stroke="#000" stroke-width="1.9" />
<line x1="375.38" y1="113.00" x2="381.18" y2="113.00" stroke="#000" stroke-width="2.0" />
<line x1="375.38" y1="143.60" x2="381.18" y2="143.60" stroke="#000" stroke-width="2.0" />
<rect x="375.28" y="124.8" width="6" height="6" fill="#000"/>
<line x1="397.16" y1="118.50" x2="397.16" y2="140.50" stroke="#000" stroke-width="1.9" />
<line x1="394.26" y1="118.50" x2="400.06" y2="118.50" stroke="#000" stroke-width="2.0" />
<line x1="394.26" y1="140.50" x2="400.06" y2="140.50" stroke="#000" stroke-width="2.0" />
<rect x="394.16" y="125.80000000000001" width="6" height="6" fill="#000"/>
<rect x="413.04" y="109.6" width="6" height="6" fill="#000"/>
<line x1="434.92" y1="111.00" x2="434.92" y2="132.30" stroke="#000" stroke-width="1.9" />
<line x1="432.02" y1="111.00" x2="437.82" y2="111.00" stroke="#000" stroke-width="2.0" />
<line x1="432.02" y1="132.30" x2="437.82" y2="132.30" stroke="#000" stroke-width="2.0" />
<rect x="431.92" y="118.0" width="6" height="6" fill="#000"/>
<line x1="453.80" y1="106.50" x2="453.80" y2="114.50" stroke="#000" stroke-width="1.9" />
<line x1="450.90" y1="106.50" x2="456.70" y2="106.50" stroke="#000" stroke-width="2.0" />
<line x1="450.90" y1="114.50" x2="456.70" y2="114.50" stroke="#000" stroke-width="2.0" />
<rect x="450.80" y="107.6" width="6" height="6" fill="#000"/>
<line x1="472.68" y1="103.40" x2="472.68" y2="119.20" stroke="#000" stroke-width="1.9" />
<line x1="469.78" y1="103.40" x2="475.58" y2="103.40" stroke="#000" stroke-width="2.0" />
<line x1="469.78" y1="119.20" x2="475.58" y2="119.20" stroke="#000" stroke-width="2.0" />
<rect x="469.68" y="108.2" width="6" height="6" fill="#000"/>
<line x1="482.12" y1="91.00" x2="482.12" y2="116.80" stroke="#000" stroke-width="1.9" />
<line x1="479.22" y1="91.00" x2="485.02" y2="91.00" stroke="#000" stroke-width="2.0" />
<line x1="479.22" y1="116.80" x2="485.02" y2="116.80" stroke="#000" stroke-width="2.0" />
<rect x="479.12" y="101.0" width="6" height="6" fill="#000"/>
<line x1="342.50" y1="36.90" x2="355.40" y2="36.90" stroke="#000" stroke-width="1.8" />
<circle cx="348.8" cy="36.9" r="2.6" fill="#000"/>
<line x1="343.80" y1="55.00" x2="357.90" y2="55.00" stroke="#000" stroke-width="1.8" />
<rect x="348.3" y="52.3" width="5.4" height="5.4" fill="#000"/>
<text x="367" y="41.1" font-size="12.4" font-weight="bold" text-anchor="start" >monocytes</text>
<text x="365.5" y="59.3" font-size="12.1" font-weight="bold" text-anchor="start" >B cells</text>
<text transform="translate(0.7,309.7) scale(0.94,1)" font-size="17.4" font-weight="bold">C</text>
<text x="37.2" y="313.8" font-size="12" font-weight="normal" text-anchor="start" >kDa</text>
<text x="34.8" y="328.8" font-size="12" font-weight="normal" text-anchor="start" letter-spacing="1.3">40</text>
<line x1="55.50" y1="325.00" x2="64.50" y2="325.00" stroke="#000" stroke-width="2.2" />
<defs>
<filter id="bl" x="-50%" y="-50%" width="200%" height="200%"><feGaussianBlur stdDeviation="2.4"/></filter>
<filter id="bl2" x="-50%" y="-50%" width="200%" height="200%"><feGaussianBlur stdDeviation="3"/></filter>
<clipPath id="blotclip"><rect x="69.8" y="316.3" width="115.2" height="36.7"/></clipPath>
<linearGradient id="blbg" x1="0" x2="1" y1="0" y2="0">
<stop offset="0" stop-color="#a8a8a8"/><stop offset="0.08" stop-color="#b4b4b4"/><stop offset="0.25" stop-color="#bdbdbd"/><stop offset="0.5" stop-color="#c4c4c4"/><stop offset="0.7" stop-color="#c8c8c8"/><stop offset="1" stop-color="#d4d4d4"/>
</linearGradient>
</defs>
<g clip-path="url(#blotclip)">
<rect x="69.8" y="316.3" width="115.2" height="36.7" fill="#bcbcbc"/>
<g filter="url(#bl2)">
<rect x="62" y="310" width="28" height="24" fill="#707070"/>
<rect x="62" y="332" width="30" height="24" fill="#9e9e9e"/>
<rect x="64" y="310" width="8" height="46" fill="#787878"/>
<rect x="86" y="310" width="14" height="14" fill="#7c7c7c"/>
<rect x="86" y="324" width="14" height="32" fill="#a8a8a8"/>
<rect x="99" y="310" width="20" height="34" fill="#555"/>
<rect x="66" y="311" width="60" height="5" fill="#4a4a4a"/>
<rect x="119" y="318" width="9" height="36" fill="#acacac"/>
<rect x="128.5" y="312" width="18" height="30" fill="#8e8e8e"/>
<rect x="147" y="312" width="30" height="44" fill="#c4c4c4"/>
<rect x="172" y="312" width="16" height="44" fill="#d2d2d2"/>
</g>
<g filter="url(#bl)">
<ellipse cx="108.8" cy="341.8" rx="8.6" ry="6.6" fill="#0c0c0c"/>
<ellipse cx="137.3" cy="341.6" rx="9.2" ry="6.4" fill="#111"/>
</g>
</g>
<line x1="173.80" y1="334.90" x2="188.30" y2="334.90" stroke="#000" stroke-width="2.3" />
<line x1="173.80" y1="350.30" x2="188.30" y2="350.30" stroke="#000" stroke-width="1.8" />
<text x="197.2" y="340.3" font-size="11" font-weight="bold" letter-spacing="0.3">Fc<tspan font-size="11" dx="1">γ</tspan>RIIb1</text>
<text x="197.2" y="358.5" font-size="11" font-weight="bold" letter-spacing="0.3">Fc<tspan font-size="11" dx="1">γ</tspan>RIIb2</text>
<text x="81.2" y="366.4" font-size="11" font-weight="bold" text-anchor="middle" >0</text>
<text x="104.4" y="366.4" font-size="11" font-weight="bold" text-anchor="middle" >24</text>
<text x="134" y="366.4" font-size="11" font-weight="bold" text-anchor="middle" >48</text>
<text x="161" y="366.4" font-size="11" font-weight="bold" text-anchor="middle" >48</text>
<line x1="96.30" y1="371.80" x2="140.00" y2="371.80" stroke="#000" stroke-width="2.6" />
<line x1="151.30" y1="371.80" x2="171.30" y2="371.80" stroke="#000" stroke-width="2.6" />
<text x="119" y="384.6" font-size="12" font-weight="bold" text-anchor="middle" >HD</text>
<text x="162.5" y="384.6" font-size="12" font-weight="bold" text-anchor="middle" >LD</text>
<text transform="translate(0.3,415.1) scale(0.94,1)" font-size="17.4" font-weight="bold">D</text>
<line x1="57.00" y1="436.50" x2="57.00" y2="647.50" stroke="#000" stroke-width="2.0" />
<line x1="52.50" y1="646.50" x2="180.00" y2="646.50" stroke="#000" stroke-width="2.0" />
<line x1="52.50" y1="646.50" x2="57.00" y2="646.50" stroke="#000" stroke-width="1.6" />
<text x="50.2" y="650.1" font-size="10" font-weight="bold" text-anchor="end" >10</text>
<line x1="55.00" y1="625.53" x2="57.00" y2="625.53" stroke="#000" stroke-width="0.8" />
<line x1="55.00" y1="613.26" x2="57.00" y2="613.26" stroke="#000" stroke-width="0.8" />
<line x1="55.00" y1="604.55" x2="57.00" y2="604.55" stroke="#000" stroke-width="0.8" />
<line x1="55.00" y1="597.80" x2="57.00" y2="597.80" stroke="#000" stroke-width="0.8" />
<line x1="55.00" y1="592.29" x2="57.00" y2="592.29" stroke="#000" stroke-width="0.8" />
<line x1="55.00" y1="587.62" x2="57.00" y2="587.62" stroke="#000" stroke-width="0.8" />
<line x1="55.00" y1="583.58" x2="57.00" y2="583.58" stroke="#000" stroke-width="0.8" />
<line x1="55.00" y1="580.02" x2="57.00" y2="580.02" stroke="#000" stroke-width="0.8" />
<line x1="52.50" y1="576.83" x2="57.00" y2="576.83" stroke="#000" stroke-width="1.6" />
<text x="50.2" y="580.4300000000001" font-size="10" font-weight="bold" text-anchor="end" >100</text>
<line x1="55.00" y1="555.86" x2="57.00" y2="555.86" stroke="#000" stroke-width="0.8" />
<line x1="55.00" y1="543.59" x2="57.00" y2="543.59" stroke="#000" stroke-width="0.8" />
<line x1="55.00" y1="534.88" x2="57.00" y2="534.88" stroke="#000" stroke-width="0.8" />
<line x1="55.00" y1="528.13" x2="57.00" y2="528.13" stroke="#000" stroke-width="0.8" />
<line x1="55.00" y1="522.62" x2="57.00" y2="522.62" stroke="#000" stroke-width="0.8" />
<line x1="55.00" y1="517.95" x2="57.00" y2="517.95" stroke="#000" stroke-width="0.8" />
<line x1="55.00" y1="513.91" x2="57.00" y2="513.91" stroke="#000" stroke-width="0.8" />
<line x1="55.00" y1="510.35" x2="57.00" y2="510.35" stroke="#000" stroke-width="0.8" />
<line x1="52.50" y1="507.16" x2="57.00" y2="507.16" stroke="#000" stroke-width="1.6" />
<text x="50.2" y="510.76" font-size="10" font-weight="bold" text-anchor="end" >1000</text>
<line x1="55.00" y1="486.19" x2="57.00" y2="486.19" stroke="#000" stroke-width="0.8" />
<line x1="55.00" y1="473.92" x2="57.00" y2="473.92" stroke="#000" stroke-width="0.8" />
<line x1="55.00" y1="465.21" x2="57.00" y2="465.21" stroke="#000" stroke-width="0.8" />
<line x1="55.00" y1="458.46" x2="57.00" y2="458.46" stroke="#000" stroke-width="0.8" />
<line x1="55.00" y1="452.95" x2="57.00" y2="452.95" stroke="#000" stroke-width="0.8" />
<line x1="55.00" y1="448.28" x2="57.00" y2="448.28" stroke="#000" stroke-width="0.8" />
<line x1="55.00" y1="444.24" x2="57.00" y2="444.24" stroke="#000" stroke-width="0.8" />
<line x1="55.00" y1="440.68" x2="57.00" y2="440.68" stroke="#000" stroke-width="0.8" />
<line x1="52.50" y1="437.49" x2="57.00" y2="437.49" stroke="#000" stroke-width="1.6" />
<text x="50.2" y="441.09000000000003" font-size="10" font-weight="bold" text-anchor="end" >10000</text>
<line x1="87.00" y1="646.50" x2="87.00" y2="650.20" stroke="#000" stroke-width="1.6" />
<line x1="148.00" y1="646.50" x2="148.00" y2="650.20" stroke="#000" stroke-width="1.6" />
<text x="90.5" y="659.8" font-size="10.6" font-weight="bold" text-anchor="middle" >Fresh</text>
<text x="148.5" y="661.5" font-size="10.6" font-weight="bold" text-anchor="middle" >HD</text>
<text transform="translate(19.4,619.2) rotate(-90)" font-size="11.8" font-weight="bold" textLength="158" lengthAdjust="spacingAndGlyphs">Fc<tspan font-weight="normal">γ</tspan>RIIb on monocytes (MFI)</text>
<line x1="87.00" y1="574.00" x2="148.40" y2="472.00" stroke="#000" stroke-width="0.8" />
<line x1="87.00" y1="576.00" x2="148.40" y2="478.00" stroke="#000" stroke-width="0.8" />
<line x1="87.00" y1="578.00" x2="148.40" y2="466.00" stroke="#000" stroke-width="0.8" />
<line x1="87.00" y1="580.00" x2="148.40" y2="484.00" stroke="#000" stroke-width="0.8" />
<line x1="87.00" y1="583.00" x2="148.40" y2="476.00" stroke="#000" stroke-width="0.8" />
<line x1="87.00" y1="586.00" x2="148.40" y2="470.00" stroke="#000" stroke-width="0.8" />
<line x1="87.00" y1="589.00" x2="148.40" y2="488.00" stroke="#000" stroke-width="0.8" />
<line x1="87.00" y1="592.00" x2="148.40" y2="462.00" stroke="#000" stroke-width="0.8" />
<line x1="87.00" y1="595.00" x2="148.40" y2="457.30" stroke="#000" stroke-width="0.8" />
<line x1="87.00" y1="598.00" x2="148.40" y2="452.30" stroke="#000" stroke-width="0.8" />
<line x1="87.00" y1="601.00" x2="148.40" y2="480.00" stroke="#000" stroke-width="0.8" />
<line x1="87.00" y1="604.00" x2="148.40" y2="474.00" stroke="#000" stroke-width="0.8" />
<line x1="87.00" y1="606.00" x2="148.40" y2="494.90" stroke="#000" stroke-width="0.8" />
<line x1="87.00" y1="608.00" x2="148.40" y2="468.00" stroke="#000" stroke-width="0.8" />
<line x1="87.00" y1="610.00" x2="148.40" y2="482.60" stroke="#000" stroke-width="0.8" />
<line x1="87.00" y1="612.00" x2="148.40" y2="488.40" stroke="#000" stroke-width="0.8" />
<line x1="87.00" y1="596.00" x2="148.40" y2="466.00" stroke="#000" stroke-width="0.8" />
<line x1="87.00" y1="603.00" x2="148.40" y2="527.50" stroke="#000" stroke-width="0.8" />
<rect x="83" y="572.5" width="8" height="50.5" rx="3.5" fill="#000"/>
<rect x="85.8" y="585.1" width="2.4" height="0.8" fill="#fff" opacity="0.5"/>
<rect x="85.8" y="589.6" width="2.4" height="0.8" fill="#fff" opacity="0.6"/>
<rect x="85.8" y="594.4" width="2.4" height="0.8" fill="#fff" opacity="0.5"/>
<rect x="85.8" y="599.6" width="2.4" height="0.8" fill="#fff" opacity="0.6"/>
<rect x="85.8" y="603.6" width="2.4" height="0.8" fill="#fff" opacity="0.5"/>
<rect x="144.2" y="460" width="8.4" height="19.5" rx="3.5" fill="#000"/>
<circle cx="148.4" cy="452.3" r="2.8" fill="#fff" stroke="#000" stroke-width="2.6"/>
<circle cx="148.4" cy="457.3" r="2.8" fill="#fff" stroke="#000" stroke-width="2.6"/>
<circle cx="148.4" cy="482.6" r="2.8" fill="#fff" stroke="#000" stroke-width="2.6"/>
<circle cx="148.4" cy="488.4" r="2.8" fill="#fff" stroke="#000" stroke-width="2.6"/>
<circle cx="148.4" cy="494.9" r="2.8" fill="#fff" stroke="#000" stroke-width="2.6"/>
<circle cx="148.4" cy="527.5" r="2.8" fill="#fff" stroke="#000" stroke-width="2.6"/>
<text transform="translate(267.9,309.8) scale(0.94,1)" font-size="17.4" font-weight="bold">E</text>
<line x1="315.60" y1="324.60" x2="315.60" y2="476.00" stroke="#000" stroke-width="1.9" />
<line x1="312.00" y1="472.60" x2="508.50" y2="472.60" stroke="#000" stroke-width="1.9" />
<line x1="311.80" y1="472.60" x2="315.60" y2="472.60" stroke="#000" stroke-width="1.6" />
<text x="310.9" y="476.8" font-size="10.6" font-weight="bold" text-anchor="end" >0</text>
<line x1="311.80" y1="423.30" x2="315.60" y2="423.30" stroke="#000" stroke-width="1.6" />
<text x="310.9" y="427.5" font-size="10.6" font-weight="bold" text-anchor="end" >20</text>
<line x1="311.80" y1="374.00" x2="315.60" y2="374.00" stroke="#000" stroke-width="1.6" />
<text x="310.9" y="378.2" font-size="10.6" font-weight="bold" text-anchor="end" >40</text>
<line x1="311.80" y1="324.70" x2="315.60" y2="324.70" stroke="#000" stroke-width="1.6" />
<text x="310.9" y="328.90000000000003" font-size="10.6" font-weight="bold" text-anchor="end" >60</text>
<line x1="315.50" y1="472.60" x2="315.50" y2="476.30" stroke="#000" stroke-width="1.6" />
<text x="316.7" y="489.6" font-size="10.8" font-weight="bold" text-anchor="middle" >0</text>
<line x1="363.80" y1="472.60" x2="363.80" y2="476.30" stroke="#000" stroke-width="1.6" />
<text x="364.2" y="489.6" font-size="10.8" font-weight="bold" text-anchor="middle" >2000</text>
<line x1="412.10" y1="472.60" x2="412.10" y2="476.30" stroke="#000" stroke-width="1.6" />
<text x="412.5" y="489.6" font-size="10.8" font-weight="bold" text-anchor="middle" >4000</text>
<line x1="460.40" y1="472.60" x2="460.40" y2="476.30" stroke="#000" stroke-width="1.6" />
<text x="460.79999999999995" y="489.6" font-size="10.8" font-weight="bold" text-anchor="middle" >6000</text>
<line x1="508.70" y1="472.60" x2="508.70" y2="476.30" stroke="#000" stroke-width="1.6" />
<text x="507.3" y="489.6" font-size="10.8" font-weight="bold" text-anchor="middle" >8000</text>
<text transform="translate(291.2,429.3) rotate(-90)" font-size="10.7" font-weight="bold">Division (%)</text>
<circle cx="326.5" cy="440.7" r="2.9" fill="#000"/>
<circle cx="350.8" cy="408.6" r="2.9" fill="#000"/>
<circle cx="360.9" cy="436" r="2.9" fill="#000"/>
<circle cx="351.1" cy="452.7" r="2.9" fill="#000"/>
<circle cx="371.8" cy="357.3" r="2.9" fill="#000"/>
<circle cx="397.7" cy="342.3" r="2.9" fill="#000"/>
<circle cx="393.8" cy="371.8" r="2.9" fill="#000"/>
<circle cx="417.3" cy="352.2" r="2.9" fill="#000"/>
<circle cx="400.7" cy="386.2" r="2.9" fill="#000"/>
<circle cx="405.3" cy="398.8" r="2.9" fill="#000"/>
<circle cx="408.8" cy="413.4" r="2.9" fill="#000"/>
<circle cx="385.7" cy="427.7" r="2.9" fill="#000"/>
<circle cx="444.5" cy="334.8" r="2.9" fill="#000"/>
<circle cx="464.4" cy="342.2" r="2.9" fill="#000"/>
<line x1="326.50" y1="440.70" x2="463.80" y2="332.50" stroke="#000" stroke-width="2.2" />
<path d="M326.9,407.5 L342.4,401.0 L358.7,393.7 L369.9,388.4 L375.7,385.5 L390.0,372.6 L405.0,358.4 L417.0,346.5 L427.8,338.5 L435.3,329.2 L438.5,325.5" fill="none" stroke="#000" stroke-width="2.4" stroke-dasharray="0.01 5.7" stroke-linecap="round"/>
<circle cx="458.1" cy="320" r="1.2" fill="#000"/>
<path d="M333.0,468.5 L341.4,459.2 L352.5,445.8 L364.1,432.8 L377.1,419.0 L390.0,406.0 L404.6,395.4 L415.0,389.0 L427.7,383.8 L446.2,376.9 L464.2,370.5" fill="none" stroke="#000" stroke-width="2.4" stroke-dasharray="0.01 5.7" stroke-linecap="round"/>
<text x="458.2" y="450.6" font-size="10.9" font-weight="bold" text-anchor="start" >r = 0.75</text>
<text x="458.2" y="461.1" font-size="10.9" font-weight="bold" text-anchor="start" >p =0.003</text>
<line x1="316.50" y1="500.20" x2="316.50" y2="646.70" stroke="#000" stroke-width="1.9" />
<line x1="312.50" y1="643.20" x2="503.20" y2="643.20" stroke="#000" stroke-width="1.9" />
<line x1="312.50" y1="643.20" x2="316.50" y2="643.20" stroke="#000" stroke-width="1.6" />
<text x="311.0" y="646.9000000000001" font-size="10.6" font-weight="bold" text-anchor="end" >0</text>
<line x1="312.50" y1="607.40" x2="316.50" y2="607.40" stroke="#000" stroke-width="1.6" />
<text x="311.0" y="611.1000000000001" font-size="10.6" font-weight="bold" text-anchor="end" >200</text>
<line x1="312.50" y1="571.60" x2="316.50" y2="571.60" stroke="#000" stroke-width="1.6" />
<text x="311.0" y="575.3000000000001" font-size="10.6" font-weight="bold" text-anchor="end" >400</text>
<line x1="312.50" y1="535.80" x2="316.50" y2="535.80" stroke="#000" stroke-width="1.6" />
<text x="311.0" y="539.5000000000001" font-size="10.6" font-weight="bold" text-anchor="end" >600</text>
<line x1="312.50" y1="500.00" x2="316.50" y2="500.00" stroke="#000" stroke-width="1.6" />
<text x="311.0" y="503.70000000000005" font-size="10.6" font-weight="bold" text-anchor="end" >800</text>
<line x1="316.80" y1="643.20" x2="316.80" y2="646.70" stroke="#000" stroke-width="1.6" />
<text x="318.6" y="658.8" font-size="10.8" font-weight="bold" text-anchor="middle" >0</text>
<line x1="363.30" y1="643.20" x2="363.30" y2="646.70" stroke="#000" stroke-width="1.6" />
<text x="363.7" y="658.8" font-size="10.8" font-weight="bold" text-anchor="middle" >2000</text>
<line x1="409.80" y1="643.20" x2="409.80" y2="646.70" stroke="#000" stroke-width="1.6" />
<text x="410.2" y="658.8" font-size="10.8" font-weight="bold" text-anchor="middle" >4000</text>
<line x1="456.30" y1="643.20" x2="456.30" y2="646.70" stroke="#000" stroke-width="1.6" />
<text x="456.7" y="658.8" font-size="10.8" font-weight="bold" text-anchor="middle" >6000</text>
<line x1="502.80" y1="643.20" x2="502.80" y2="646.70" stroke="#000" stroke-width="1.6" />
<text x="504.7" y="658.8" font-size="10.8" font-weight="bold" text-anchor="middle" >8000</text>
<text transform="translate(287.9,604.3) rotate(-90)" font-size="11.4" font-weight="bold" textLength="68" lengthAdjust="spacingAndGlyphs">TNF<tspan font-weight="normal">α</tspan> (pg/mL)</text>
<circle cx="328.1" cy="642.7" r="2.9" fill="#000"/>
<circle cx="351.3" cy="630.6" r="2.9" fill="#000"/>
<circle cx="351.3" cy="636.3" r="2.9" fill="#000"/>
<circle cx="361" cy="636.9" r="2.9" fill="#000"/>
<circle cx="384.8" cy="615.6" r="2.9" fill="#000"/>
<circle cx="391.5" cy="615.6" r="2.9" fill="#000"/>
<circle cx="398.3" cy="607.7" r="2.9" fill="#000"/>
<circle cx="407.1" cy="610.4" r="2.9" fill="#000"/>
<circle cx="403.3" cy="629.2" r="2.9" fill="#000"/>
<circle cx="413.7" cy="586.3" r="2.9" fill="#000"/>
<circle cx="440.4" cy="579.6" r="2.9" fill="#000"/>
<circle cx="459.5" cy="568.8" r="2.9" fill="#000"/>
<circle cx="369.2" cy="523.1" r="2.9" fill="#000"/>
<circle cx="395" cy="538.1" r="2.9" fill="#000"/>
<line x1="327.70" y1="631.20" x2="459.60" y2="568.80" stroke="#000" stroke-width="2.2" />
<path d="M328.7,589.3 L345.0,589.5 L362.3,589.2 L371.9,587.3 L379.6,584.4 L386.3,581.5 L393.5,577.0 L404.6,570.0 L410.0,566.9 L426.2,555.4 L442.3,539.2 L458.5,523.1" fill="none" stroke="#000" stroke-width="2.4" stroke-dasharray="0.01 5.7" stroke-linecap="round"/>
<path d="M363.3,638.3 L369.0,634.4 L375.8,628.7 L382.5,623.8 L389.2,620.0 L396.0,618.0 L402.7,616.2 L409.4,614.8 L416.2,614.2 L440.0,614.0 L459.5,614.2" fill="none" stroke="#000" stroke-width="2.4" stroke-dasharray="0.01 5.7" stroke-linecap="round"/>
<text x="472.3" y="623.2" font-size="10.9" font-weight="bold" text-anchor="start" >r = 0.64</text>
<text x="472.3" y="634.2" font-size="10.9" font-weight="bold" text-anchor="start" >p =0.015</text>
<text x="320.4" y="674.4" font-size="10.6" font-weight="bold" textLength="189" lengthAdjust="spacingAndGlyphs">Fc<tspan font-weight="normal">γ</tspan>RIIb expression on HD monocytes</text>
<text x="410.5" y="686.3" font-size="10.6" font-weight="bold" text-anchor="middle" >(MFI)</text>
</svg>
</body></html>
